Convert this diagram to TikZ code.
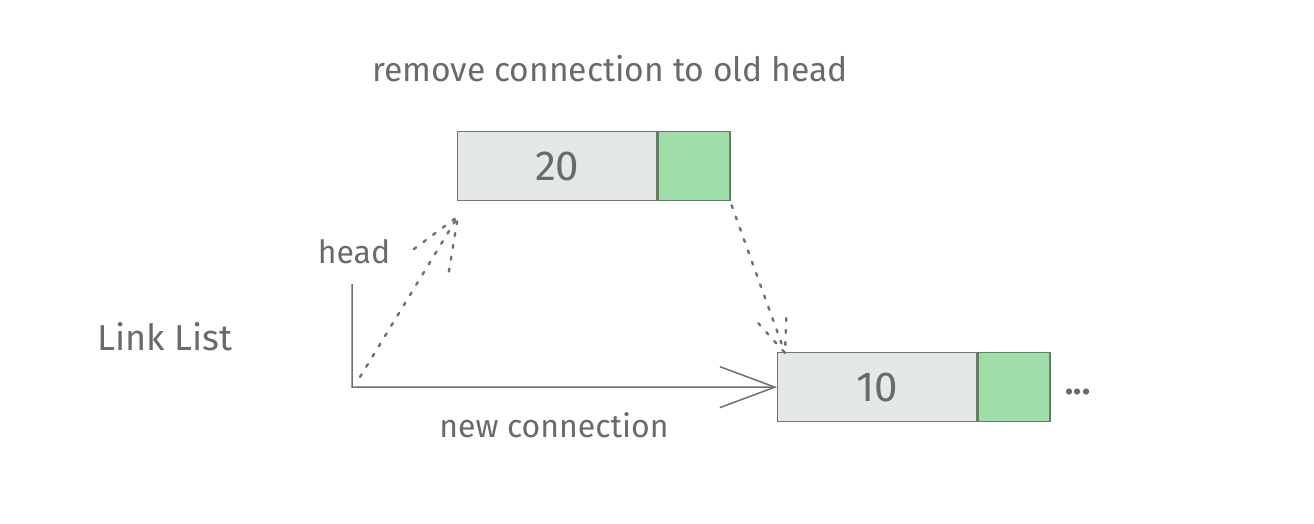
\documentclass[tikz,border=0pt]{standalone}
\usepackage{fontspec}
\setmainfont{Fira Sans}
\usetikzlibrary{arrows.meta,calc}
\definecolor{txt}{HTML}{6A6A6A}
\definecolor{ln}{HTML}{707070}
\definecolor{boxfill}{HTML}{E5E8E9}
\definecolor{boxline}{HTML}{767676}
\definecolor{ptrfill}{HTML}{A0DEA9}
\definecolor{ptrline}{HTML}{5E7F62}
\tikzset{
  lbl/.style={text=txt, font=\fontsize{32}{38}\selectfont, inner sep=0pt, anchor=base},
  valbox/.style={draw=boxline, fill=boxfill, line width=1.3pt, minimum width=199pt, minimum height=69pt, inner sep=0pt, anchor=north west, text=txt, font=\fontsize{42}{48}\selectfont},
  ptrbox/.style={draw=ptrline, fill=ptrfill, line width=1.3pt, minimum width=72pt, minimum height=69pt, inner sep=0pt, anchor=north west},
  solidcon/.style={draw=ln, line width=1.5pt},
  dotcon/.style={draw=ln, line width=2.4pt, line cap=round, dash pattern=on 3pt off 9pt},
}
\begin{document}
\begin{tikzpicture}[x=1pt,y=-1pt]
\useasboundingbox (0,0) rectangle (1314,524);
% nodes
\node[valbox] (b20) at (457,131) {20};
\node[ptrbox] (p20) at (b20.north east) {};
\node[valbox] (b10) at (777,352) {10};
\node[ptrbox] (p10) at (b10.north east) {};
% labels
\node[lbl, font=\fontsize{33.6}{40}\selectfont] (title) at (610,82) {remove connection to old head};
\node[lbl] (headl) at (354,263) {head};
\node[lbl, font=\fontsize{36}{42}\selectfont] (ll) at (165,350) {Link List};
\node[lbl] (nc) at (554,437) {new connection};
\node[lbl, font=\fontsize{34}{40}\bfseries] (dots) at (1078,394) {...};
% head pointer: new connection
\coordinate (h) at (352,284);
\coordinate (hc) at (352,387);
\draw[solidcon, -{Straight Barb[length=55pt,width=41pt,line width=1.5pt]}] (h) -- (hc) -- (b10.west);
% removed connection (dotted) from head to 20
\coordinate (s1) at (360,377);
\coordinate (t1) at ($(b20.south west)+(1,15)$);
\draw[dotcon] (s1) -- (t1);
\draw[dotcon] ($(t1)!56pt!22:(s1)$) -- (t1) -- ($(t1)!56pt!-22:(s1)$);
% 20 -> 10 (dotted)
\coordinate (s2) at ($(p20.south east)+(1,4)$);
\coordinate (t2) at ($(b10.north west)+(8,1)$);
\draw[dotcon] (s2) -- (t2);
\draw[dotcon] ($(t2)!40pt!22:(s2)$) -- (t2) -- ($(t2)!40pt!-22:(s2)$);
\end{tikzpicture}
\end{document}
